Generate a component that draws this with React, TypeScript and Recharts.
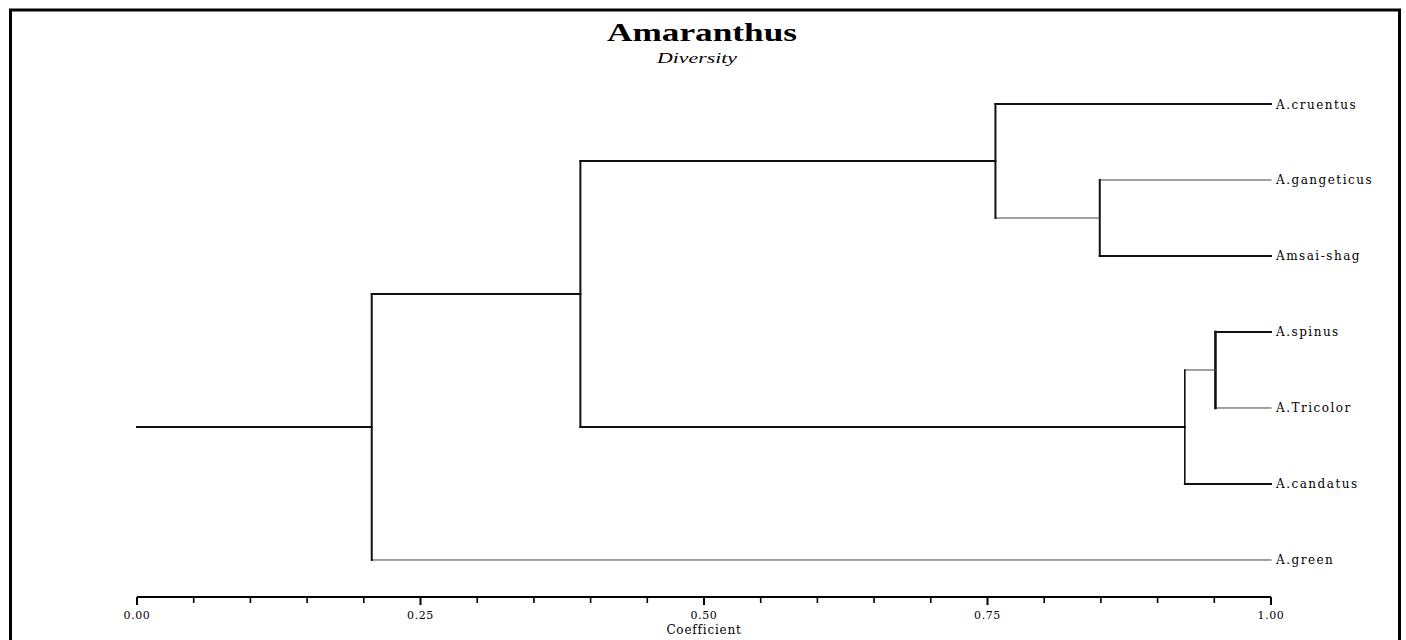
import React from 'react';
import { ComposedChart, Line, XAxis, YAxis, Customized } from 'recharts';

const chartTitle = 'Amaranthus';
const chartSubtitle = 'Diversity';
const axisTitle = 'Coefficient';

const leafNames = ['A.cruentus', 'A.gangeticus', 'Amsai-shag', 'A.spinus', 'A.Tricolor', 'A.candatus', 'A.green'];
const leafIndex = [0, 1, 2, 3, 4, 5, 6];

// merges: upper child, lower child, coefficient (L = leaf index, N = merge index)
const mergeUpper = ['L1', 'L0', 'L3', 'N2', 'N1', 'N4'];
const mergeLower = ['L2', 'N0', 'L4', 'L5', 'N3', 'L6'];
const mergeCoef = [0.849, 0.757, 0.951, 0.924, 0.391, 0.207];

const xTicks = [0, 0.05, 0.1, 0.15, 0.2, 0.25, 0.3, 0.35, 0.4, 0.45, 0.5, 0.55, 0.6, 0.65, 0.7, 0.75, 0.8, 0.85, 0.9, 0.95, 1];
const majorTicks = [0, 0.25, 0.5, 0.75, 1];
const majorTickLabels = ['0.00', '0.25', '0.50', '0.75', '1.00'];

const thinSegments = ['h:L1', 'h:N0', 'h:L4', 'h:N2', 'h:L6'];
const segmentWidthOverride: Record<string, number> = { 'v:N2': 2.6, 'v:N3': 1.6 };

type Pt = { x: number; y: number };
type Seg = { id: string; pts: Pt[] };

function buildSegments(): Seg[] {
  const nodeY: number[] = [];
  const segs: Seg[] = [];
  const pos = (c: string): Pt => {
    const i = Number(c.slice(1));
    return c[0] === 'L' ? { x: 1, y: leafIndex[i] } : { x: mergeCoef[i], y: nodeY[i] };
  };
  mergeCoef.forEach((h, i) => {
    const a = pos(mergeUpper[i]);
    const b = pos(mergeLower[i]);
    nodeY[i] = (a.y + b.y) / 2;
    segs.push({ id: 'h:' + mergeUpper[i], pts: [{ x: h, y: a.y }, { x: a.x, y: a.y }] });
    segs.push({ id: 'h:' + mergeLower[i], pts: [{ x: h, y: b.y }, { x: b.x, y: b.y }] });
    segs.push({ id: 'v:N' + i, pts: [{ x: h, y: a.y }, { x: h, y: b.y }] });
  });
  const last = mergeCoef.length - 1;
  segs.push({ id: 'root', pts: [{ x: 0, y: nodeY[last] }, { x: mergeCoef[last], y: nodeY[last] }] });
  return segs;
}

const segments = buildSegments();

const XTick = (props: any) => {
  const { x, y, payload } = props;
  const mi = majorTicks.indexOf(payload.value);
  const major = mi >= 0;
  return (
    <g>
      <line x1={x} x2={x} y1={y} y2={y + (major ? 8 : 6)} stroke="#000" strokeWidth={major ? 2 : 1.6} />
      {major && (
        <text x={x} y={y + 22} textAnchor="middle" fontFamily="DejaVu Serif" fontSize={11} letterSpacing={0.6} fill="#000">
          {majorTickLabels[mi]}
        </text>
      )}
    </g>
  );
};

const YTick = (props: any) => {
  const { x, y, payload } = props;
  return (
    <text x={x} y={y + 4.5} textAnchor="start" fontFamily="DejaVu Serif" fontSize={12} letterSpacing={1.5} fill="#000">
      {leafNames[payload.value]}
    </text>
  );
};

const Decor = () => (
  <g>
    <rect x={10.5} y={10} width={1389} height={700} fill="none" stroke="#000" strokeWidth={3} />
    <text x={702} y={41} textAnchor="middle" fontFamily="Liberation Serif" fontWeight="bold" fontSize={25} textLength={190} lengthAdjust="spacingAndGlyphs" fill="#000">
      {chartTitle}
    </text>
    <text x={697} y={63} textAnchor="middle" fontFamily="Liberation Serif" fontStyle="italic" fontSize={15} textLength={80} lengthAdjust="spacingAndGlyphs" fill="#000">
      {chartSubtitle}
    </text>
  </g>
);

export default function App() {
  return (
    <div style={{ position: 'absolute', left: 0, top: 0, width: 1406, height: 640, background: '#fff' }}>
      <ComposedChart width={1406} height={640} margin={{ top: 104, right: 0, bottom: 0, left: 137 }}>
        <XAxis
          type="number"
          dataKey="x"
          domain={[0, 1]}
          ticks={xTicks}
          interval={0}
          height={43}
          tickSize={0}
          tickMargin={0}
          tickLine={false}
          axisLine={{ stroke: '#000', strokeWidth: 2 }}
          tick={<XTick />}
          label={{
            content: (p: any) => {
              const vb = p.viewBox;
              return (
                <text x={vb.x + vb.width / 2} y={vb.y + 37} textAnchor="middle" fontFamily="DejaVu Serif" fontSize={12} letterSpacing={0.8} fill="#000">
                  {axisTitle}
                </text>
              );
            },
          }}
        />
        <YAxis
          type="number"
          orientation="right"
          domain={[0, 6.487]}
          reversed
          ticks={leafIndex}
          interval={0}
          width={135}
          tickSize={0}
          tickMargin={5}
          tickLine={false}
          axisLine={false}
          tick={<YTick />}
        />
        {segments.map((s) => {
          const thin = thinSegments.includes(s.id);
          const w = segmentWidthOverride[s.id] ?? (thin ? 1 : 2);
          return (
            <Line
              key={s.id}
              data={s.pts}
              dataKey="y"
              type="linear"
              stroke={thin ? '#444' : '#111'}
              strokeWidth={w}
              strokeLinecap="square"
              dot={false}
              activeDot={false}
              legendType="none"
              isAnimationActive={false}
            />
          );
        })}
        <Customized component={Decor} />
      </ComposedChart>
    </div>
  );
}
